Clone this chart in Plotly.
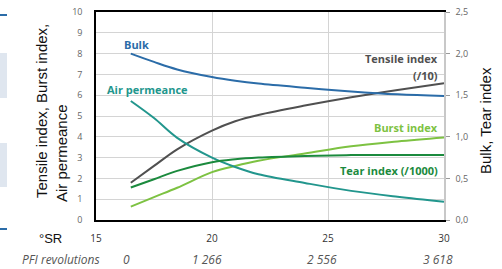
import plotly.graph_objects as go

# Data (x = °SR)
sr = [16.5, 17.5, 18.5, 20, 21, 22, 24, 26, 28, 30]
tensile_div10 = [1.79, 2.6, 3.4, 4.3, 4.75, 5.05, 5.5, 5.9, 6.25, 6.57]
burst_index = [0.64, 1.1, 1.55, 2.3, 2.6, 2.85, 3.2, 3.55, 3.78, 3.97]
air_permeance = [5.72, 4.9, 3.95, 3.0, 2.55, 2.2, 1.78, 1.4, 1.12, 0.88]
bulk = [2.0, 1.9, 1.81, 1.72, 1.675, 1.64, 1.59, 1.545, 1.51, 1.49]
tear_div1000 = [0.39, 0.49, 0.59, 0.695, 0.73, 0.75, 0.77, 0.78, 0.782, 0.782]

x_ticks = [15, 20, 25, 30]
left_ticks = list(range(0, 11))
right_ticks = [0, 0.5, 1.0, 1.5, 2.0, 2.5]
right_ticktext = ["0,0", "0,5", "1,0", "1,5", "2,0", "2,5"]
pfi_sr = [16.3, 19.8, 24.75, 29.75]
pfi_labels = ["0", "1 266", "2 556", "3 618"]

C_BULK = "#2b6ca8"
C_AIR = "#22968d"
C_TENS = "#505050"
C_BURST = "#7dc242"
C_TEAR = "#1b8a3d"

fig = go.Figure()
fig.add_trace(go.Scatter(x=sr, y=tensile_div10, mode="lines", line=dict(color=C_TENS, width=2, shape="spline")))
fig.add_trace(go.Scatter(x=sr, y=burst_index, mode="lines", line=dict(color=C_BURST, width=2, shape="spline")))
fig.add_trace(go.Scatter(x=sr, y=air_permeance, mode="lines", line=dict(color=C_AIR, width=2, shape="spline")))
fig.add_trace(go.Scatter(x=sr, y=bulk, mode="lines", yaxis="y2", line=dict(color=C_BULK, width=2, shape="spline")))
fig.add_trace(go.Scatter(x=sr, y=tear_div1000, mode="lines", yaxis="y2", line=dict(color=C_TEAR, width=2, shape="spline")))

tickfont = dict(family="Open Sans", size=9, color="#666666")

fig.update_layout(
    width=502, height=269,
    margin=dict(l=96, r=58, t=12, b=49, pad=0, autoexpand=False),
    paper_bgcolor="white", plot_bgcolor="white",
    showlegend=False,
    xaxis=dict(range=[15, 30], tickvals=x_ticks, showgrid=True, gridcolor="#d4d4d4", gridwidth=1,
               showline=True, linecolor="black", linewidth=2, mirror=True, zeroline=False, automargin=False,
               tickfont=dict(family="Open Sans", size=10, color="#333333"), ticklabelstandoff=8),
    yaxis=dict(range=[0, 10], tickvals=left_ticks, showgrid=True, gridcolor="#d4d4d4", gridwidth=1,
               showline=True, linecolor="black", linewidth=1.5, zeroline=False, automargin=False,
               tickfont=tickfont, ticklabelstandoff=10),
    yaxis2=dict(range=[0, 2.5], tickvals=right_ticks, ticktext=right_ticktext, overlaying="y", side="right",
                showgrid=False, showline=True, linecolor="#c8c8c8", linewidth=1.5, zeroline=False, automargin=False,
                ticks="outside", ticklen=4, tickcolor="#999999", tickfont=tickfont, ticklabelstandoff=4),
)

anns = [
    dict(text="<b>Bulk</b>", x=136, y=44, color=C_BULK, size=11, xanchor="center"),
    dict(text="<b>Air permeance</b>", x=147, y=89, color=C_AIR, size=11, xanchor="center"),
    dict(text="<b>Tensile index</b>", x=440, y=58, color=C_TENS, size=11, xanchor="right"),
    dict(text="<b>(/10)</b>", x=440, y=75, color=C_TENS, size=11, xanchor="right"),
    dict(text="<b>Burst index</b>", x=440, y=127, color=C_BURST, size=11, xanchor="right"),
    dict(text="<b>Tear index (/1000)</b>", x=440, y=170, color=C_TEAR, size=11, xanchor="right"),
]
for a in anns:
    fig.add_annotation(text=a["text"], xref="paper", yref="paper",
                       x=(a["x"] - 96) / 348, y=(220 - a["y"]) / 208,
                       xanchor=a["xanchor"], yanchor="middle", showarrow=False,
                       font=dict(family="Open Sans", size=a["size"], color=a["color"]))

def px_ann(text, x, y, size, color, angle=0, italic=False, xanchor="center", family="Liberation Sans"):
    if italic:
        text = "<i>" + text + "</i>"
    fig.add_annotation(text=text, xref="paper", yref="paper",
                       x=(x - 96) / 348, y=(220 - y) / 208,
                       xanchor=xanchor, yanchor="middle", showarrow=False, textangle=angle,
                       font=dict(family=family, size=size, color=color))

px_ann("Tensile index, Burst index,", 41, 111, 15, "#111111", angle=-90)
px_ann("Air permeance", 61, 153, 15, "#111111", angle=-90)
px_ann("Bulk, Tear index", 485, 121, 15, "#111111", angle=-90)
px_ann("°SR", 50, 239, 13, "#111111")
px_ann("PFI revolutions", 61, 259, 12, "#555555", italic=True, family="Open Sans")
for xv, lab in zip(pfi_sr, pfi_labels):
    fig.add_annotation(text="<i>" + lab + "</i>", xref="x", yref="paper", x=xv, y=(220 - 259) / 208,
                       xanchor="center", yanchor="middle", showarrow=False,
                       font=dict(family="Open Sans", size=12, color="#555555"))

# left edge page artifacts
def pshape(x0, y0, x1, y1, color):
    fig.add_shape(type="rect", xref="paper", yref="paper",
                  x0=(x0 - 96) / 348, x1=(x1 - 96) / 348, y0=(220 - y1) / 208, y1=(220 - y0) / 208,
                  fillcolor=color, line=dict(width=0), layer="below")

pshape(0, 14, 7, 16, C_BULK)
pshape(0, 53, 7, 98, "#dfe6ef")
pshape(0, 143, 7, 187, "#dfe6ef")
pshape(0, 228, 7, 230, C_BULK)

fig.write_html("out.html", config={"displayModeBar": False},
               post_script="document.body.style.margin='0';document.body.style.padding='0';"
                           "document.body.style.overflow='hidden';")
